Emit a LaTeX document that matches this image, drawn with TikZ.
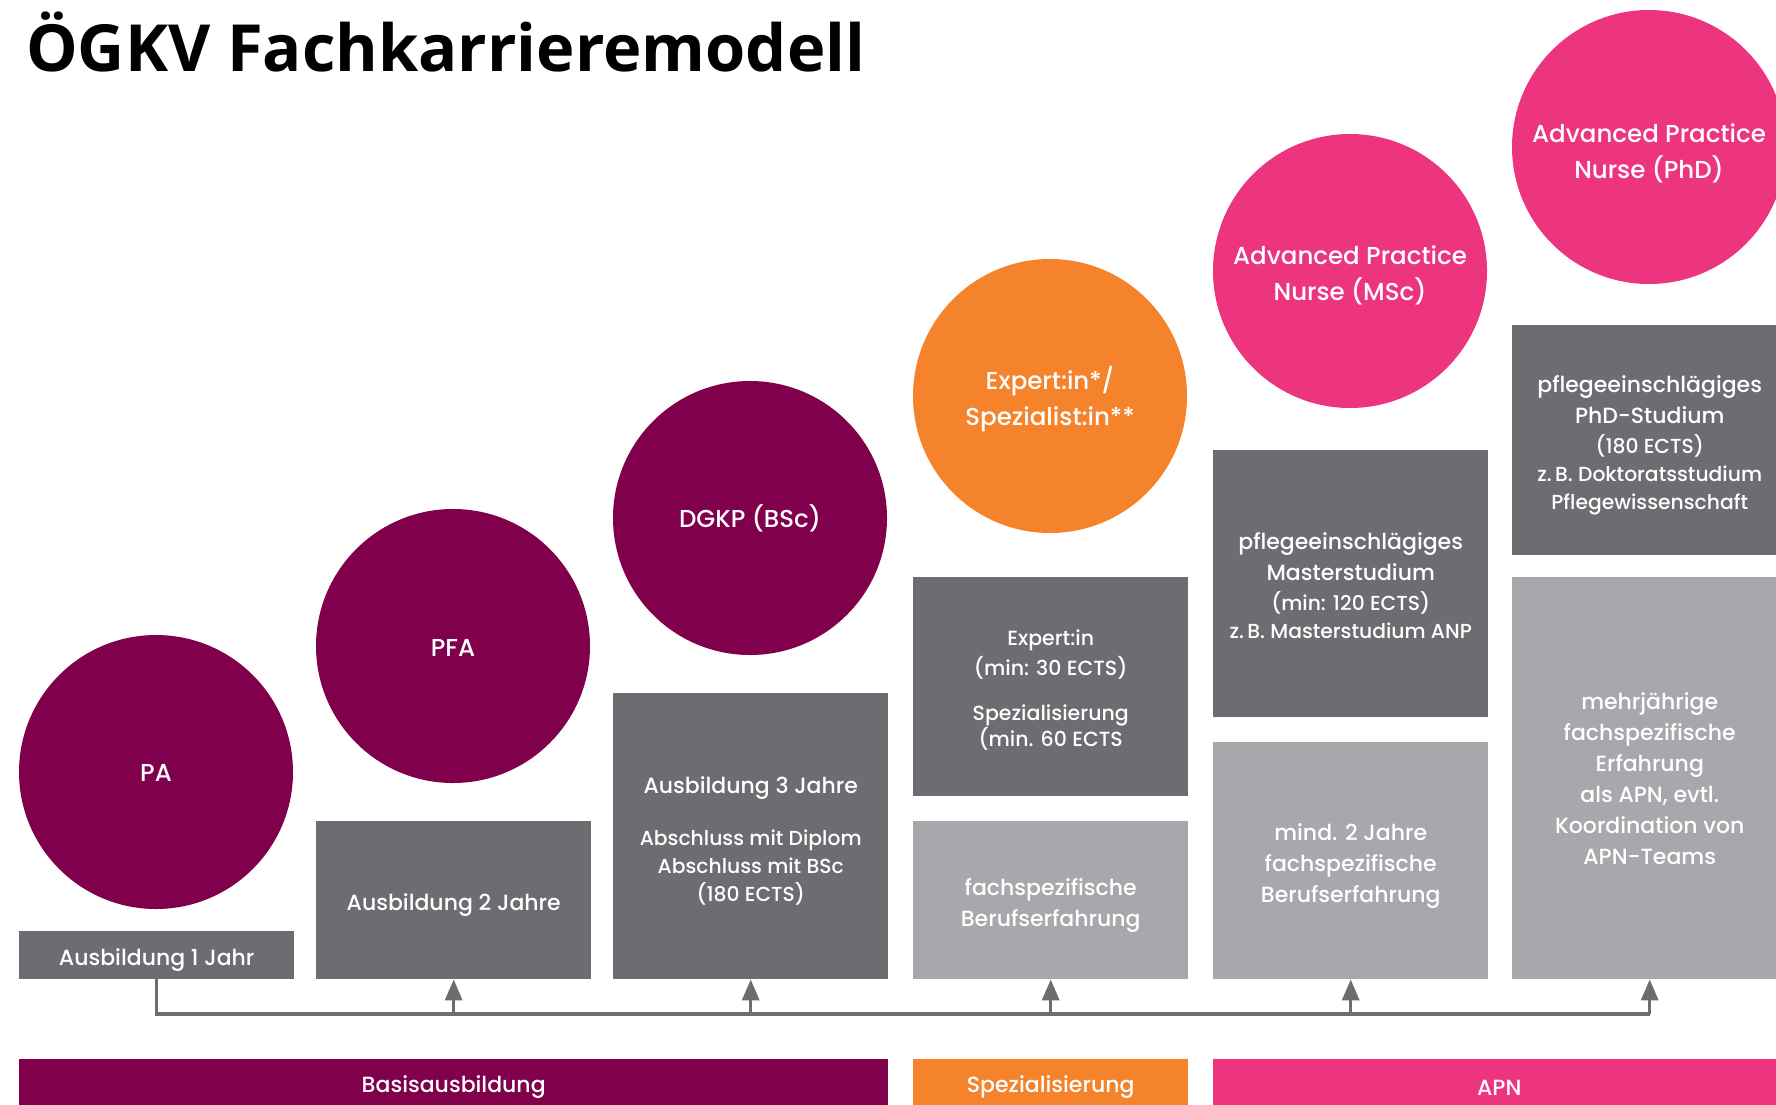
\documentclass[tikz,border=0pt]{standalone}
\usepackage{fontspec}
\setmainfont{Poppins Medium}
\newfontfamily\titlefont{Open Sans}
\usetikzlibrary{arrows.meta}
\definecolor{basis}{RGB}{128, 0, 76}
\definecolor{spez}{RGB}{244, 131, 43}
\definecolor{apn}{RGB}{236, 52, 127}
\definecolor{darkblock}{RGB}{108, 109, 113}
\definecolor{lightblock}{RGB}{167, 168, 171}
\newcommand{\circtxt}{\fontsize{24.5}{36}\selectfont}
\newcommand{\boxtxt}{\fontsize{22}{31}\selectfont}
\newcommand{\smalltxt}{\fontsize{20.3}{28}\selectfont}

\begin{document}
\begin{tikzpicture}[x=1pt, y=-1pt,
    stage/.style={circle, minimum size=274pt, inner sep=0pt},
    stagetxt/.style={inner sep=0pt, text=white, align=center, font=\circtxt},
    block/.style={rectangle, anchor=north west, minimum width=275pt, inner sep=0pt},
    blocktxt/.style={inner sep=0pt, text=white, align=center, font=\boxtxt},
    band/.style={rectangle, anchor=north west, minimum height=46pt, inner sep=0pt, text=white, font=\boxtxt,
      execute at begin node={\rule{0pt}{27pt}}},
    link/.style={draw=darkblock, line width=3.2pt},
    arr/.style={link, -{Triangle[width=17pt, length=21pt]}}]
			\clip (0,0) rectangle (1776,1104);

			\node[anchor=base west, inner sep=0pt, font=\titlefont\bfseries\fontsize{65}{70}\selectfont] (title) at (26,71) {ÖGKV Fachkarrieremodell};

			% stufen
			\node[stage, fill=basis] (pa) at (156,772) {};
			\node[stage, fill=basis] (pfa) at (453,646) {};
			\node[stage, fill=basis] (dgkp) at (750,518) {};
			\node[stage, fill=spez] (expert) at (1050,396) {};
			\node[stage, fill=apn] (msc) at (1350,271) {};
			\node[stage, fill=apn] (phd) at (1649,147) {};

			\node[stagetxt] (patxt) at ([yshift=-1pt]pa.center) {PA};
			\node[stagetxt] (pfatxt) at ([yshift=-2pt]pfa.center) {PFA};
			\node[stagetxt] (dgkptxt) at (dgkp.center) {DGKP (BSc)};
			\node[stagetxt] (experttxt) at ([yshift=-3pt]expert.center) {Expert:in*/\\Spezialist:in**};
			\node[stagetxt] (msctxt) at ([yshift=-4pt]msc.center) {Advanced Practice\\Nurse (MSc)};
			\node[stagetxt] (phdtxt) at ([yshift=-6pt]phd.center) {Advanced Practice\\Nurse (PhD)};

			% ausbildung / voraussetzungen
			\node[block, fill=darkblock, minimum height=48pt] (ausb1) at (19,931) {};
			\node[block, fill=darkblock, minimum height=158pt] (ausb2) at (316,821) {};
			\node[block, fill=darkblock, minimum height=286pt] (ausb3) at (613,693) {};
			\node[block, fill=darkblock, minimum height=219pt] (weiterb) at (913,577) {};
			\node[block, fill=lightblock, minimum height=158pt] (berufs) at (913,821) {};
			\node[block, fill=darkblock, minimum height=267pt] (master) at (1213,450) {};
			\node[block, fill=lightblock, minimum height=237pt] (apnpraxis) at (1213,742) {};
			\node[block, fill=darkblock, minimum height=230pt] (doktorat) at (1512,325) {};
			\node[block, fill=lightblock, minimum height=402pt] (apnerf) at (1512,577) {};

			\node[blocktxt] (ausb1txt) at ([yshift=-5pt]ausb1.center) {Ausbildung 1 Jahr};
			\node[blocktxt] (ausb2txt) at ([yshift=-5pt]ausb2.center) {Ausbildung 2 Jahre};
			\node[blocktxt] (ausb3txt) at ([yshift=-5pt]ausb3.center)
				{Ausbildung 3 Jahre\\[21pt] \smalltxt Abschluss mit Diplom\\[-3pt] \smalltxt Abschluss mit BSc\\[-3pt] \smalltxt (180 ECTS)};
			\node[blocktxt, font=\fontsize{20.5}{30}\selectfont] (weiterbtxt) at ([yshift=-3pt]weiterb.center)
				{Expert:in\\ (min: 30 ECTS)\\[15pt] Spezialisierung\\[-4pt] (min. 60 ECTS};
			\node[blocktxt] (berufstxt) at ([yshift=-5pt]berufs.center) {fachspezifische\\Berufserfahrung};
			\node[blocktxt] (mastertxt) at ([yshift=-2pt]master.center)
				{pflegeeinschlägiges\\ Masterstudium\\[-1pt] \smalltxt (min: 120 ECTS)\\[-3pt] \smalltxt z.\,B. Masterstudium ANP};
			\node[blocktxt] (apnpraxistxt) at ([yshift=-5pt]apnpraxis.center) {mind. 2 Jahre\\fachspezifische\\Berufserfahrung};
			\node[blocktxt] (doktorattxt) at ([yshift=-5pt]doktorat.center)
				{pflegeeinschlägiges\\ PhD-Studium\\[-1pt] \smalltxt (180 ECTS)\\[-3pt] \smalltxt z.\,B. Doktoratsstudium\\[-3pt] \smalltxt Pflegewissenschaft};
			\node[blocktxt] (apnerftxt) at (apnerf.center)
				{mehrjährige\\ fachspezifische\\ Erfahrung\\ als APN, evtl.\\ Koordination von\\ APN-Teams};

			% bereiche
			\node[band, fill=basis, minimum width=869pt] (basisband) at (19,1059) {Basisausbildung};
			\node[band, fill=spez, minimum width=275pt] (spezband) at (913,1059) {Spezialisierung};
			\node[band, fill=apn, minimum width=572pt] (apnband) at (1213,1059) {APN};

			% verbindungen
			\coordinate (bus) at (0,1014);
			\draw[link] (ausb1.south) -- (ausb1.south |- bus) -- (apnerf.south |- bus);
			\draw[arr] (ausb2.south |- bus) -- (ausb2.south);
			\draw[arr] (ausb3.south |- bus) -- (ausb3.south);
			\draw[arr] (berufs.south |- bus) -- (berufs.south);
			\draw[arr] (apnpraxis.south |- bus) -- (apnpraxis.south);
			\draw[arr] (apnerf.south |- bus) -- (apnerf.south);
		\end{tikzpicture}
\end{document}
